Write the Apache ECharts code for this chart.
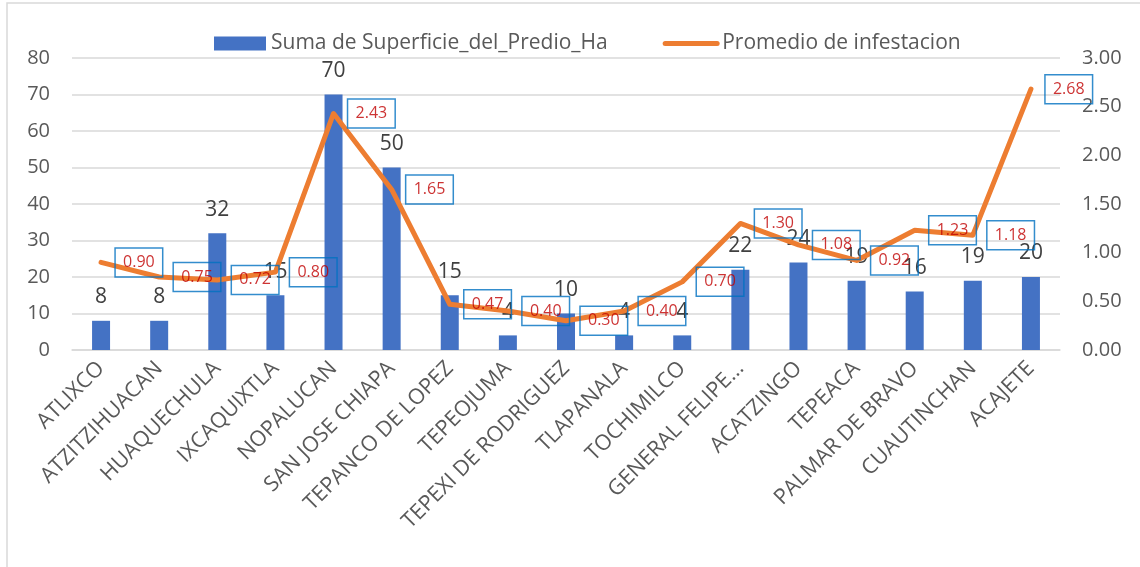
<!DOCTYPE html>
<html>
<head>
<meta charset="utf-8">
<script src="https://cdn.jsdelivr.net/npm/echarts@6/dist/echarts.min.js"></script>
<style>
  html, body { margin: 0; padding: 0; background: #fff; }
  #chart { width: 1140px; height: 567px; }
</style>
</head>
<body>
<div id="chart"></div>
<script>
const categories = [
  'ATLIXCO', 'ATZITZIHUACAN', 'HUAQUECHULA', 'IXCAQUIXTLA', 'NOPALUCAN',
  'SAN JOSE CHIAPA', 'TEPANCO DE LOPEZ', 'TEPEOJUMA', 'TEPEXI DE RODRIGUEZ',
  'TLAPANALA', 'TOCHIMILCO', 'GENERAL FELIPE...', 'ACATZINGO', 'TEPEACA',
  'PALMAR DE BRAVO', 'CUAUTINCHAN', 'ACAJETE'
];
const superficie = [8, 8, 32, 15, 70, 50, 15, 4, 10, 4, 4, 22, 24, 19, 16, 19, 20];
const infestacion = [0.90, 0.75, 0.72, 0.80, 2.43, 1.65, 0.47, 0.40, 0.30, 0.40, 0.70, 1.30, 1.08, 0.92, 1.23, 1.18, 2.68];

const font = 'Open Sans';
const grey = '#595959';

const chart = echarts.init(document.getElementById('chart'));

chart.setOption({
  animation: false,
  textStyle: { fontFamily: font },
  graphic: [{
    type: 'rect',
    shape: { x: 7, y: 3, width: 1200, height: 620 },
    style: { fill: 'none', stroke: '#d9d9d9', lineWidth: 1.5 },
    silent: true
  }],
  legend: {
    top: 28,
    left: 209,
    itemGap: 55,
    itemWidth: 52,
    itemHeight: 14,
    textStyle: { fontSize: 21, color: grey, fontFamily: font },
    data: [
      { name: 'Suma de Superficie_del_Predio_Ha', icon: 'rect' },
      {
        name: 'Promedio de infestacion',
        itemStyle: { opacity: 0 },
        lineStyle: { width: 5, cap: 'round' }
      }
    ]
  },
  grid: { left: 72, right: 80, top: 58, bottom: 217 },
  xAxis: {
    type: 'category',
    data: categories,
    axisTick: { show: false },
    axisLine: { lineStyle: { color: '#d9d9d9', width: 1.5 } },
    axisLabel: { rotate: 45, interval: 0, fontSize: 21.5, color: grey, margin: 15 }
  },
  yAxis: [{
    type: 'value',
    min: 0, max: 80, interval: 10,
    axisLabel: { fontSize: 20, color: grey, margin: 22 },
    splitLine: { lineStyle: { color: '#d9d9d9', width: 1.5 } }
  }, {
    type: 'value',
    min: 0, max: 3, interval: 0.5,
    axisLabel: { fontSize: 20, color: grey, margin: 22, formatter: v => v.toFixed(2) },
    splitLine: { show: false }
  }],
  series: [{
    name: 'Suma de Superficie_del_Predio_Ha',
    type: 'bar',
    data: superficie,
    barWidth: 18,
    itemStyle: { color: '#4472C4' },
    label: { show: true, position: 'top', distance: 13, fontSize: 21, color: '#404040' }
  }, {
    name: 'Promedio de infestacion',
    type: 'line',
    yAxisIndex: 1,
    data: infestacion,
    symbol: 'none',
    lineStyle: { color: '#ED7D31', width: 5, cap: 'round', join: 'round' },
    itemStyle: { color: '#ED7D31' },
    z: 3
  }, {
    // boxed value labels of the line, offset to the right of each point
    name: 'infestacion_labels',
    type: 'scatter',
    yAxisIndex: 1,
    data: infestacion,
    symbolSize: 0,
    z: 4,
    label: {
      show: true,
      position: 'right',
      distance: 14,
      formatter: p => p.value.toFixed(2),
      fontSize: 16,
      lineHeight: 16,
      color: '#C00000',
      borderColor: '#0070C0',
      borderWidth: 1.5,
      padding: [7, 8, 6, 8]
    }
  }]
});
</script>
</body>
</html>
